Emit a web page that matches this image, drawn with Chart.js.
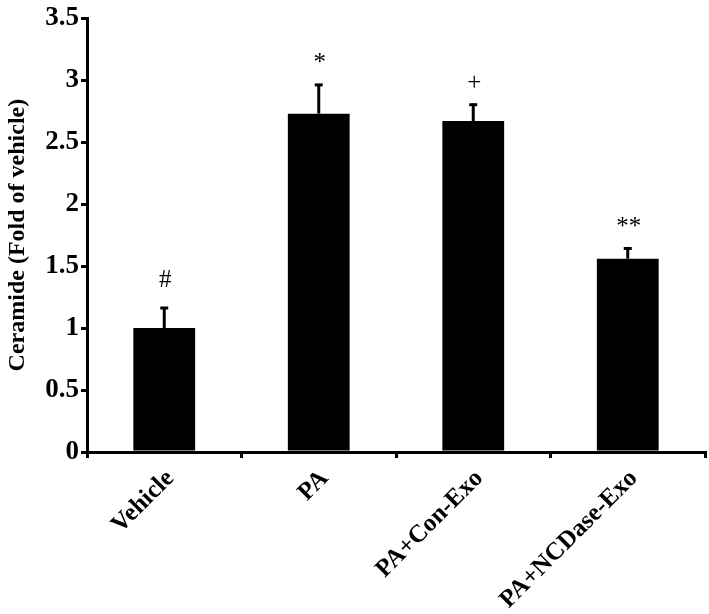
<!DOCTYPE html>
<html>
<head>
<meta charset="utf-8">
<script src="https://cdn.jsdelivr.net/npm/chart.js@4"></script>
<style>
  html, body { margin: 0; padding: 0; background: #fff; }
  #wrap { width: 709px; height: 614px; }
</style>
</head>
<body>
<div id="wrap"><canvas id="chart" width="709" height="614"></canvas></div>
<script>
const categories = ['Vehicle', 'PA', 'PA+Con-Exo', 'PA+NCDase-Exo'];
const values = [1.0, 2.73, 2.67, 1.56];
const errors = [0.17, 0.24, 0.14, 0.09];
const marks = ['#', '*', '+', '**'];
const yTicks = [0, 0.5, 1, 1.5, 2, 2.5, 3, 3.5];

const serif = '"Liberation Serif", "Times New Roman", serif';

// error bars (upper only) + significance marks
const errorBars = {
  id: 'errorBars',
  afterDatasetsDraw(chart) {
    const ctx = chart.ctx;
    const y = chart.scales.y;
    const meta = chart.getDatasetMeta(0);
    ctx.save();
    ctx.strokeStyle = '#000';
    ctx.fillStyle = '#000';
    meta.data.forEach((bar, i) => {
      const top = y.getPixelForValue(values[i]);
      const errTop = y.getPixelForValue(values[i] + errors[i]);
      ctx.lineWidth = 3;
      ctx.beginPath();
      ctx.moveTo(bar.x, top);
      ctx.lineTo(bar.x, errTop);
      ctx.stroke();
      ctx.beginPath();
      ctx.moveTo(bar.x - 4, errTop + 1);
      ctx.lineTo(bar.x + 4, errTop + 1);
      ctx.stroke();
      ctx.font = '25px ' + serif;
      ctx.textAlign = 'center';
      ctx.textBaseline = 'bottom';
      ctx.fillText(marks[i], bar.x + 1, errTop - (marks[i] === '#' ? 14 : 8));
    });
    ctx.restore();
  }
};

new Chart(document.getElementById('chart'), {
  type: 'bar',
  data: {
    labels: categories,
    datasets: [{
      data: values,
      backgroundColor: '#000',
      borderWidth: 0,
      categoryPercentage: 1,
      barPercentage: 0.4
    }]
  },
  plugins: [errorBars],
  options: {
    responsive: false,
    animation: false,
    layout: { padding: { top: 14, right: 4, left: 0, bottom: 0 } },
    plugins: { legend: { display: false }, tooltip: { enabled: false } },
    scales: {
      x: {
        afterFit(s) { s.height = 162; },
        border: { display: true, color: '#000', width: 3 },
        grid: { display: true, offset: true, drawOnChartArea: false, drawTicks: true, tickLength: 6, color: '#000', lineWidth: 3 },
        ticks: {
          color: '#000',
          minRotation: 45,
          maxRotation: 45,
          padding: 6,
          labelOffset: 6,
          font: { family: serif, size: 25, weight: 'bold' }
        }
      },
      y: {
        min: 0,
        max: 3.5,
        afterFit(s) { s.width = 87; },
        afterBuildTicks(s) { s.ticks = yTicks.map(v => ({ value: v })); },
        border: { display: true, color: '#000', width: 3 },
        grid: { display: true, drawOnChartArea: false, drawTicks: true, tickLength: 6, color: '#000', lineWidth: 3 },
        title: {
          display: true,
          text: 'Ceramide (Fold of vehicle)',
          color: '#000',
          padding: { top: 3, bottom: 4 },
          font: { family: serif, size: 24, weight: 'bold' }
        },
        ticks: {
          color: '#000',
          padding: 2,
          callback: v => String(v),
          font: { family: serif, size: 27, weight: 'bold' }
        }
      }
    }
  }
});
</script>
</body>
</html>
